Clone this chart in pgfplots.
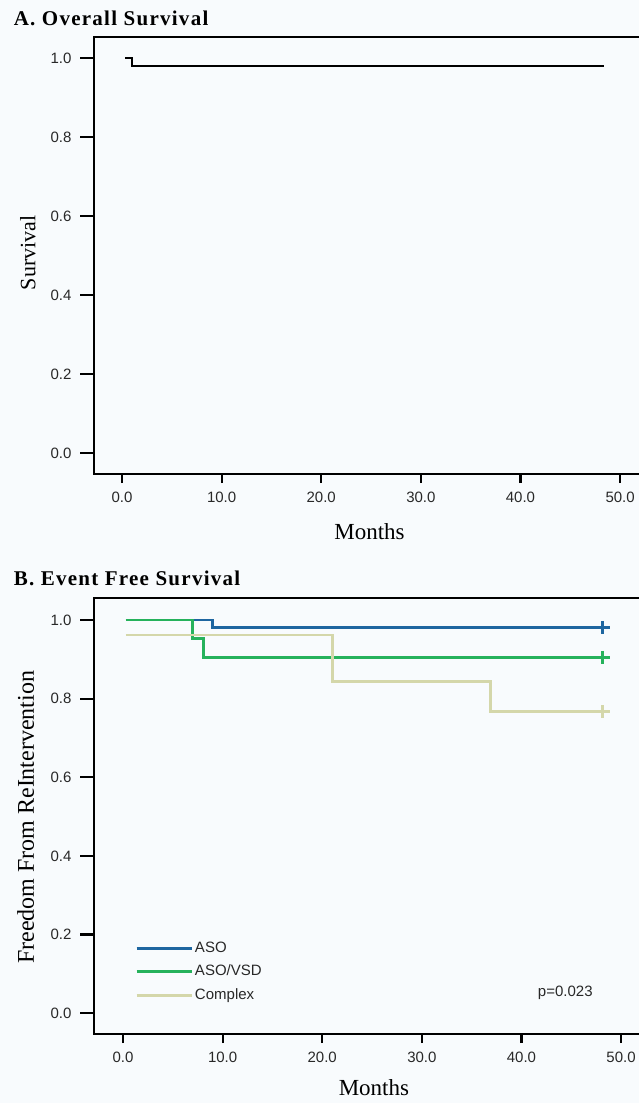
\documentclass[border=0pt]{standalone}
\usepackage{pgfplots}
\pgfplotsset{compat=1.18}
\usepackage{fontspec}
\setmainfont{Liberation Serif}
\newfontfamily\sansf{Liberation Sans}
\newfontfamily\titlef[LetterSpace=6]{Liberation Serif}
\definecolor{bgc}{RGB}{248,251,253}
\definecolor{asoblue}{RGB}{30,102,160}
\definecolor{vsdgreen}{RGB}{38,178,92}
\definecolor{cplx}{RGB}{212,215,170}
\definecolor{txt}{RGB}{40,40,40}
\pgfplotsset{
  kmaxis/.style={
    scale only axis, width=551pt, height=437pt,
    xmin=-2.81, xmax=52.5, ymin=-0.053, ymax=1.053,
    axis line style={line width=2.4pt, black},
    tick align=outside, tick pos=left,
    major tick length=9pt,
    tick style={line width=2.2pt, black},
    ytick style={/pgfplots/major tick length=14pt},
    xtick={0,10,20,30,40,50},
    xticklabels={0.0,10.0,20.0,30.0,40.0,50.0},
    ytick={0,0.2,0.4,0.6,0.8,1.0},
    yticklabels={0.0,0.2,0.4,0.6,0.8,1.0},
    ticklabel style={font=\sansf\fontsize{15}{18}\selectfont, text=txt},
    yticklabel style={xshift=-10pt},
    xticklabel style={yshift=-5pt},
    label style={font=\fontsize{23}{27}\selectfont},
    title style={font=\titlef\bfseries\fontsize{21}{25}\selectfont, anchor=west},
  }
}
\begin{document}
\begin{tikzpicture}
\useasboundingbox (0pt,0pt) rectangle (639pt,-1103pt);
\fill[bgc] (0pt,0pt) rectangle (639pt,-1103pt);
% Panel A
\begin{axis}[kmaxis, at={(94pt,-474pt)}, anchor=south west,
  title={A. Overall Survival},
  title style={at={(axis description cs:-0.152,1.0297)}},
  xlabel={Months}, xlabel style={at={(axis description cs:0.5,-0.133)}, anchor=center},
  ylabel={Survival}, ylabel style={font=\fontsize{22}{26}\selectfont, at={(axis description cs:-0.12,0.506)}, anchor=center},
]
\addplot[const plot, black, line width=2pt] coordinates {(0.33,1.0) (1.0,0.98) (48.4,0.98)};
\end{axis}
% Panel B
\begin{axis}[kmaxis, at={(94pt,-1034pt)}, anchor=south west, height=436pt,
  xmin=-2.91, xmax=52.4, ymin=-0.053, ymax=1.056,
  title={B. Event Free Survival},
  title style={at={(axis description cs:-0.152,1.032)}},
  xlabel={Months}, xlabel style={at={(axis description cs:0.508,-0.124)}, anchor=center},
  ylabel={Freedom From ReIntervention}, ylabel style={font=\fontsize{24}{28}\selectfont, at={(axis description cs:-0.124,0.497)}, anchor=center},
  legend image code/.code={\draw[#1] (0pt,0pt) -- (55pt,0pt);},
  legend style={draw=none, fill=none, at={(axis description cs:0.0744,0.218)}, anchor=north west,
    font=\sansf\fontsize{15}{18}\selectfont, text=txt, row sep=5.5pt, inner sep=0pt,
    nodes={inner sep=2pt, text height=11pt, text depth=3pt}},
  legend cell align=left,
]
\addplot[const plot, asoblue, line width=2.8pt] coordinates {(0.3,1.0) (9.0,0.981) (48.9,0.981)};
\addlegendentry{ASO}
\addplot[const plot, vsdgreen, line width=2.8pt] coordinates {(0.3,1.0) (7.0,0.952) (8.1,0.905) (48.9,0.905)};
\addlegendentry{ASO/VSD}
\addplot[const plot, cplx, line width=2.8pt] coordinates {(0.3,0.962) (21.0,0.843) (36.9,0.767) (48.9,0.767)};
\addlegendentry{Complex}
\addplot[forget plot, only marks, mark=|, mark size=6.5pt, asoblue, mark options={line width=3pt}] coordinates {(48.1,0.981)};
\addplot[forget plot, only marks, mark=|, mark size=6.5pt, vsdgreen, mark options={line width=3pt}] coordinates {(48.1,0.905)};
\addplot[forget plot, only marks, mark=|, mark size=6.5pt, cplx, mark options={line width=3pt}] coordinates {(48.1,0.767)};
\node[font=\sansf\fontsize{15}{18}\selectfont, text=txt] at (axis cs:44.4,0.051) {p=0.023};
\end{axis}
\end{tikzpicture}
\end{document}
